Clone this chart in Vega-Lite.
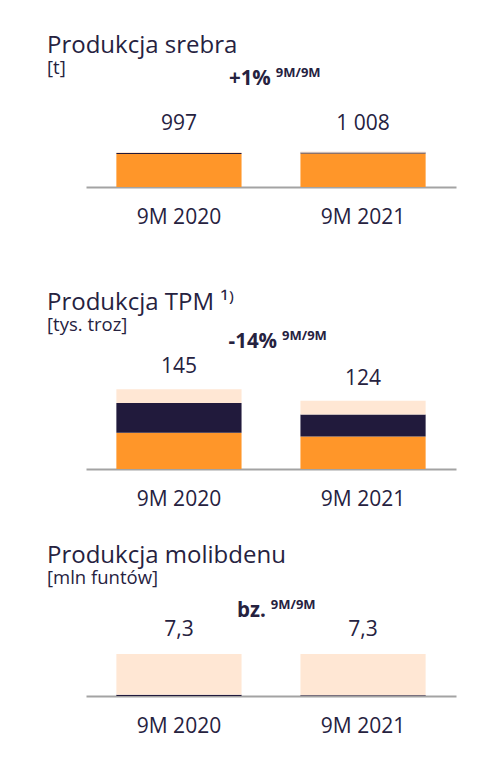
{
  "$schema": "https://vega.github.io/schema/vega-lite/v6.json",
  "padding": {"left": 47, "top": 33, "right": 20, "bottom": 20},
  "background": "white",
  "bounds": "flush",
  "spacing": 141,
  "config": {
    "font": "Open Sans",
    "view": {"stroke": null},
    "axis": {"domainColor": "#A3A3A3", "domainWidth": 2, "ticks": false, "labelFontSize": 21, "labelColor": "#26223F", "labelPadding": 30, "labelBaseline": "middle", "labelAngle": 0, "grid": false, "labelFont": "Open Sans"},
    "title": {"anchor": "start", "frame": "group", "dx": -39, "fontSize": 24, "fontWeight": "normal", "color": "#26223F", "subtitleFontSize": 18.5, "subtitleColor": "#26223F", "subtitlePadding": 1, "font": "Open Sans", "subtitleFont": "Open Sans"},
    "locale": {"number": {"decimal": ",", "thousands": " ", "grouping": [3], "currency": ["", ""]}}
  },
  "datasets": {
    "prod": [
      {"metal": "srebro", "period": "9M 2020", "segment": "KGHM Polska Miedź", "rank": 1, "value": 941},
      {"metal": "srebro", "period": "9M 2020", "segment": "KGHM INTERNATIONAL", "rank": 2, "value": 28},
      {"metal": "srebro", "period": "9M 2020", "segment": "Sierra Gorda", "rank": 3, "value": 28},
      {"metal": "srebro", "period": "9M 2021", "segment": "KGHM Polska Miedź", "rank": 1, "value": 952},
      {"metal": "srebro", "period": "9M 2021", "segment": "KGHM INTERNATIONAL", "rank": 2, "value": 28},
      {"metal": "srebro", "period": "9M 2021", "segment": "Sierra Gorda", "rank": 3, "value": 28},
      {"metal": "TPM", "period": "9M 2020", "segment": "KGHM Polska Miedź", "rank": 1, "value": 66},
      {"metal": "TPM", "period": "9M 2020", "segment": "KGHM INTERNATIONAL", "rank": 2, "value": 54},
      {"metal": "TPM", "period": "9M 2020", "segment": "Sierra Gorda", "rank": 3, "value": 25},
      {"metal": "TPM", "period": "9M 2021", "segment": "KGHM Polska Miedź", "rank": 1, "value": 59},
      {"metal": "TPM", "period": "9M 2021", "segment": "KGHM INTERNATIONAL", "rank": 2, "value": 40},
      {"metal": "TPM", "period": "9M 2021", "segment": "Sierra Gorda", "rank": 3, "value": 25},
      {"metal": "molibden", "period": "9M 2020", "segment": "KGHM Polska Miedź", "rank": 1, "value": 0},
      {"metal": "molibden", "period": "9M 2020", "segment": "KGHM INTERNATIONAL", "rank": 2, "value": 0.2},
      {"metal": "molibden", "period": "9M 2020", "segment": "Sierra Gorda", "rank": 3, "value": 7.1},
      {"metal": "molibden", "period": "9M 2021", "segment": "KGHM Polska Miedź", "rank": 1, "value": 0},
      {"metal": "molibden", "period": "9M 2021", "segment": "KGHM INTERNATIONAL", "rank": 2, "value": 0.15},
      {"metal": "molibden", "period": "9M 2021", "segment": "Sierra Gorda", "rank": 3, "value": 7.15}
    ]
  },
  "vconcat": [
    {
      "width": 370, "height": 110,
      "title": {"text": "Produkcja srebra", "subtitle": "[t]", "offset": -10},
      "layer": [
        {
          "data": {"name": "prod"},
          "transform": [{"filter": "datum.metal === 'srebro'"}],
          "mark": {"type": "bar"},
          "encoding": {
            "x": {"field": "period", "type": "nominal", "title": null, "scale": {"paddingInner": 0.32, "paddingOuter": 0.165}},
            "y": {"field": "value", "type": "quantitative", "stack": "zero", "scale": {"domain": [0, 3133], "nice": false, "zero": true}, "axis": null},
            "color": {"field": "segment", "type": "nominal", "scale": {"domain": ["KGHM Polska Miedź", "KGHM INTERNATIONAL", "Sierra Gorda"], "range": ["#FF9629", "#211A3C", "#FFE7D4"]}, "legend": null},
            "order": {"field": "rank", "type": "quantitative"}
          }
        },
        {
          "data": {"name": "prod"},
          "transform": [{"filter": "datum.metal === 'srebro'"}, {"aggregate": [{"op": "sum", "field": "value", "as": "total"}], "groupby": ["period"]}],
          "mark": {"type": "text", "dy": -28, "baseline": "middle", "fontSize": 21, "color": "#26223F"},
          "encoding": {
            "x": {"field": "period", "type": "nominal", "title": null},
            "y": {"field": "total", "type": "quantitative", "scale": {"domain": [0, 3133], "nice": false}},
            "text": {"field": "total", "type": "quantitative", "format": ",.0f"}
          }
        },
        {
          "data": {"values": [{"change": "+1%", "basis": "9M/9M"}]},
          "mark": {"type": "text", "align": "right", "dx": -2, "dy": 2, "baseline": "middle", "fontSize": 20.5, "fontWeight": "bold", "color": "#26223F"},
          "encoding": {
            "x": {"datum": "9M 2020", "type": "nominal", "bandPosition": 1.25},
            "y": {"datum": 3133, "type": "quantitative"},
            "text": {"field": "change"}
          }
        },
        {
          "data": {"values": [{"change": "+1%", "basis": "9M/9M"}]},
          "mark": {"type": "text", "align": "left", "dx": 3, "dy": -4, "baseline": "middle", "fontSize": 13, "fontWeight": "bold", "color": "#26223F"},
          "encoding": {
            "x": {"datum": "9M 2020", "type": "nominal", "bandPosition": 1.25},
            "y": {"datum": 3133, "type": "quantitative"},
            "text": {"field": "basis"}
          }
        }
      ]
    },
    {
      "width": 370, "height": 141,
      "title": {"text": "Produkcja TPM ¹⁾", "subtitle": "[tys. troz]", "offset": -6},
      "layer": [
        {
          "data": {"name": "prod"},
          "transform": [{"filter": "datum.metal === 'TPM'"}],
          "mark": {"type": "bar"},
          "encoding": {
            "x": {"field": "period", "type": "nominal", "title": null, "scale": {"paddingInner": 0.32, "paddingOuter": 0.165}},
            "y": {"field": "value", "type": "quantitative", "stack": "zero", "scale": {"domain": [0, 256], "nice": false, "zero": true}, "axis": null},
            "color": {"field": "segment", "type": "nominal", "scale": {"domain": ["KGHM Polska Miedź", "KGHM INTERNATIONAL", "Sierra Gorda"], "range": ["#FF9629", "#211A3C", "#FFE7D4"]}, "legend": null},
            "order": {"field": "rank", "type": "quantitative"}
          }
        },
        {
          "data": {"name": "prod"},
          "transform": [{"filter": "datum.metal === 'TPM'"}, {"aggregate": [{"op": "sum", "field": "value", "as": "total"}], "groupby": ["period"]}],
          "mark": {"type": "text", "dy": -22, "baseline": "middle", "fontSize": 21, "color": "#26223F"},
          "encoding": {
            "x": {"field": "period", "type": "nominal", "title": null},
            "y": {"field": "total", "type": "quantitative", "scale": {"domain": [0, 256], "nice": false}},
            "text": {"field": "total", "type": "quantitative", "format": ",.0f"}
          }
        },
        {
          "data": {"values": [{"change": "-14%", "basis": "9M/9M"}]},
          "mark": {"type": "text", "align": "right", "dx": -2, "dy": 2, "baseline": "middle", "fontSize": 20.5, "fontWeight": "bold", "color": "#26223F"},
          "encoding": {
            "x": {"datum": "9M 2020", "type": "nominal", "bandPosition": 1.3},
            "y": {"datum": 234, "type": "quantitative"},
            "text": {"field": "change"}
          }
        },
        {
          "data": {"values": [{"change": "-14%", "basis": "9M/9M"}]},
          "mark": {"type": "text", "align": "left", "dx": 3, "dy": -4, "baseline": "middle", "fontSize": 13, "fontWeight": "bold", "color": "#26223F"},
          "encoding": {
            "x": {"datum": "9M 2020", "type": "nominal", "bandPosition": 1.3},
            "y": {"datum": 234, "type": "quantitative"},
            "text": {"field": "basis"}
          }
        }
      ]
    },
    {
      "width": 370, "height": 86,
      "title": {"text": "Produkcja molibdenu", "subtitle": "[mln funtów]", "offset": 12},
      "layer": [
        {
          "data": {"name": "prod"},
          "transform": [{"filter": "datum.metal === 'molibden'"}],
          "mark": {"type": "bar"},
          "encoding": {
            "x": {"field": "period", "type": "nominal", "title": null, "scale": {"paddingInner": 0.32, "paddingOuter": 0.165}},
            "y": {"field": "value", "type": "quantitative", "stack": "zero", "scale": {"domain": [0, 14.95], "nice": false, "zero": true}, "axis": null},
            "color": {"field": "segment", "type": "nominal", "scale": {"domain": ["KGHM Polska Miedź", "KGHM INTERNATIONAL", "Sierra Gorda"], "range": ["#FF9629", "#211A3C", "#FFE7D4"]}, "legend": null},
            "order": {"field": "rank", "type": "quantitative"}
          }
        },
        {
          "data": {"name": "prod"},
          "transform": [{"filter": "datum.metal === 'molibden'"}, {"aggregate": [{"op": "sum", "field": "value", "as": "total"}], "groupby": ["period"]}],
          "mark": {"type": "text", "dy": -24, "baseline": "middle", "fontSize": 21, "color": "#26223F"},
          "encoding": {
            "x": {"field": "period", "type": "nominal", "title": null},
            "y": {"field": "total", "type": "quantitative", "scale": {"domain": [0, 14.95], "nice": false}},
            "text": {"field": "total", "type": "quantitative", "format": ".1f"}
          }
        },
        {
          "data": {"values": [{"change": "bz.", "basis": "9M/9M"}]},
          "mark": {"type": "text", "align": "right", "dx": -2, "dy": 2, "baseline": "middle", "fontSize": 20.5, "fontWeight": "bold", "color": "#26223F"},
          "encoding": {
            "x": {"datum": "9M 2020", "type": "nominal", "bandPosition": 1.21},
            "y": {"datum": 15.1, "type": "quantitative"},
            "text": {"field": "change"}
          }
        },
        {
          "data": {"values": [{"change": "bz.", "basis": "9M/9M"}]},
          "mark": {"type": "text", "align": "left", "dx": 3, "dy": -4, "baseline": "middle", "fontSize": 13, "fontWeight": "bold", "color": "#26223F"},
          "encoding": {
            "x": {"datum": "9M 2020", "type": "nominal", "bandPosition": 1.21},
            "y": {"datum": 15.1, "type": "quantitative"},
            "text": {"field": "basis"}
          }
        }
      ]
    }
  ]
}
